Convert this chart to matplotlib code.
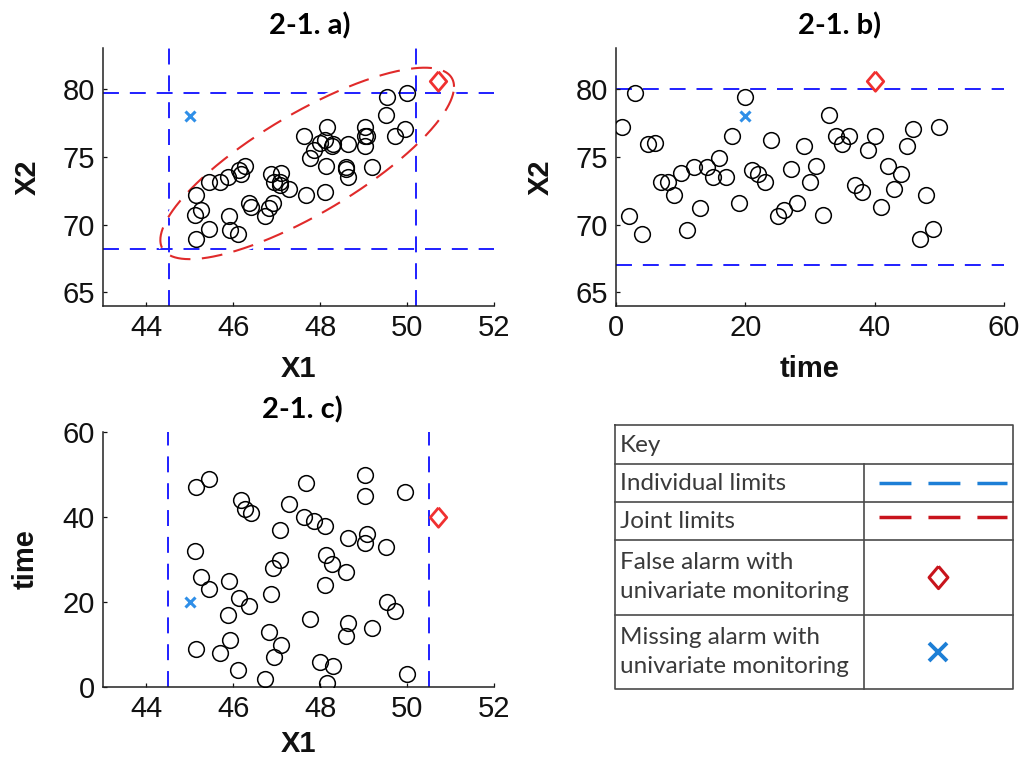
import numpy as np
import matplotlib
matplotlib.use("Agg")
import matplotlib.pyplot as plt
import matplotlib.patheffects as pe
from matplotlib.lines import Line2D

plt.rcParams["font.family"] = ["Liberation Sans", "DejaVu Sans"]

# ─── Observations (time, X1, X2) ──────────────────────────────────────────────
TIME = [1, 2, 3, 4, 5, 6, 7, 8, 9, 10,
        11, 12, 13, 14, 15, 16, 17, 18, 19, 20,
        21, 22, 23, 24, 25, 26, 27, 28, 29, 30,
        31, 32, 33, 34, 35, 36, 37, 38, 39, 40,
        41, 42, 43, 44, 45, 46, 47, 48, 49, 50]
X1 = [48.16, 46.74, 50.00, 46.11, 48.29, 48.00, 46.93, 45.70, 45.15, 47.09,
      45.93, 48.60, 46.83, 49.19, 48.65, 47.76, 45.88, 49.72, 46.35, 49.54,
      46.12, 46.86, 45.43, 48.10, 45.89, 45.25, 48.59, 46.91, 48.28, 47.08,
      48.13, 45.12, 49.51, 49.02, 48.65, 49.07, 47.08, 48.11, 47.85, 47.62,
      46.40, 46.28, 47.27, 46.17, 49.02, 49.94, 45.15, 47.68, 45.44, 49.02]
X2 = [77.2, 70.6, 79.7, 69.3, 75.9, 76.0, 73.1, 73.1, 72.2, 73.8,
      69.6, 74.2, 71.2, 74.2, 73.5, 74.9, 73.5, 76.5, 71.6, 79.4,
      74.0, 73.7, 73.1, 76.2, 70.6, 71.1, 74.1, 71.6, 75.8, 73.1,
      74.3, 70.7, 78.1, 76.5, 75.9, 76.5, 72.9, 72.4, 75.5, 76.5,
      71.3, 74.3, 72.6, 73.7, 75.8, 77.0, 68.9, 72.2, 69.7, 77.2]

# special points: (X1, X2, time)
FALSE_ALARM = (50.7, 80.6, 40)
MISSING_ALARM = (45.0, 78.0, 20)

# control limits
X1_LIM_A = [44.53, 50.2]
X2_LIM_A = [68.2, 79.7]
X2_LIM_B = [67.0, 80.0]
X1_LIM_C = [44.5, 50.5]

# joint (elliptical) limit
ELL_CENTER = (47.7, 74.5)
ELL_SD = (3.38, 7.05)
ELL_RHO = 0.80

KEY_LABELS = ["Individual limits", "Joint limits",
              "False alarm with\nunivariate monitoring",
              "Missing alarm with\nunivariate monitoring"]

# ─── Style tokens ─────────────────────────────────────────────────────────────
W, H = 1024, 762
BLUE = "#1f1fff"
RED = "#e02a2a"
DIAMOND_RED = "#f03030"
X_BLUE = "#2f8fe8"
KEY_BLUE = "#1d7fd6"
KEY_RED = "#c8141c"
TXT = "#3a3a3a"
DIAMOND = [(0, 1), (0.85, 0), (0, -1), (-0.85, 0), (0, 1)]

fig = plt.figure(figsize=(W / 100, H / 100), dpi=100)


def px_axes(left, top, right, bottom):
    return fig.add_axes([left / W, 1 - bottom / H, (right - left) / W, (bottom - top) / H])


def style(ax):
    for s in ("top", "right"):
        ax.spines[s].set_visible(False)
    for s in ("left", "bottom"):
        ax.spines[s].set_linewidth(1.1)
        ax.spines[s].set_color("#222222")
    ax.tick_params(direction="in", length=3, width=0.9, labelsize=21, pad=6, colors="#111111")


def limit_kw():
    return dict(color=BLUE, lw=1.4, dashes=(8.2, 5.6), zorder=1)


def circles(ax, x, y):
    ax.plot(x, y, "o", ls="none", ms=11.3, mfc="none", mec="black", mew=1.1, zorder=3)


def alarms(ax, fa, ma):
    ax.plot(*fa, marker=DIAMOND, ms=14, mfc="none", mec=DIAMOND_RED, mew=2.0, zorder=4)
    ax.plot(*ma, marker="x", ms=7, mec=X_BLUE, mew=2.2, zorder=4)


title_kw = dict(fontfamily="Lato", fontweight="bold", fontsize=21, pad=10)
label_kw = dict(fontsize=21, fontweight="bold", color="#111111")

# ─── (a) X2 vs X1 ─────────────────────────────────────────────────────────────
ax1 = px_axes(103, 48, 494, 306)
for v in X1_LIM_A:
    ax1.axvline(v, **limit_kw())
for v in X2_LIM_A:
    ax1.axhline(v, **limit_kw())
th = np.linspace(0, 2 * np.pi, 400)
ex = ELL_CENTER[0] + ELL_SD[0] * np.cos(th)
ey = ELL_CENTER[1] + ELL_SD[1] * (ELL_RHO * np.cos(th) + np.sqrt(1 - ELL_RHO ** 2) * np.sin(th))
ax1.plot(ex, ey, color=RED, lw=1.5, dashes=(10, 5.5), zorder=2,
         path_effects=[pe.Stroke(linewidth=4.5, foreground="white"), pe.Normal()])
circles(ax1, X1, X2)
alarms(ax1, FALSE_ALARM[:2], MISSING_ALARM[:2])
ax1.set_xlim(43, 52)
ax1.set_ylim(64, 83)
ax1.set_xticks([44, 46, 48, 50, 52])
ax1.set_yticks([65, 70, 75, 80])
ax1.set_xlabel("X1", labelpad=9, **label_kw)
ax1.set_ylabel("X2", labelpad=15, **label_kw)
ax1.set_title("2-1. a)", x=0.53, **title_kw)
style(ax1)

# ─── (b) X2 vs time ───────────────────────────────────────────────────────────
ax2 = px_axes(616, 48, 1004, 306)
for v in X2_LIM_B:
    ax2.axhline(v, **limit_kw())
circles(ax2, TIME, X2)
alarms(ax2, (FALSE_ALARM[2], FALSE_ALARM[1]), (MISSING_ALARM[2], MISSING_ALARM[1]))
ax2.set_xlim(0, 60)
ax2.set_ylim(64, 83)
ax2.set_xticks([0, 20, 40, 60])
ax2.set_yticks([65, 70, 75, 80])
ax2.set_xlabel("time", labelpad=9, **label_kw)
ax2.set_ylabel("X2", labelpad=15, **label_kw)
ax2.set_title("2-1. b)", x=0.575, **title_kw)
style(ax2)

# ─── (c) time vs X1 ───────────────────────────────────────────────────────────
ax3 = px_axes(103, 432, 494, 687)
for v in X1_LIM_C:
    ax3.axvline(v, **limit_kw())
circles(ax3, X1, TIME)
alarms(ax3, (FALSE_ALARM[0], FALSE_ALARM[2]), (MISSING_ALARM[0], MISSING_ALARM[2]))
ax3.set_xlim(43, 52)
ax3.set_ylim(0, 60)
ax3.set_xticks([44, 46, 48, 50, 52])
ax3.set_yticks([0, 20, 40, 60])
ax3.set_xlabel("X1", labelpad=5, **label_kw)
ax3.set_ylabel("time", labelpad=16, **label_kw)
ax3.set_title("2-1. c)", x=0.51, **title_kw)
style(ax3)

# ─── Key table (pixel coordinates) ────────────────────────────────────────────
kt = fig.add_axes([0, 0, 1, 1], zorder=-1)
kt.set_xlim(0, W)
kt.set_ylim(H, 0)
kt.axis("off")

L, R, T, B, C = 615, 1013, 425, 689, 864
rows = [464, 502, 540, 615]
grid_kw = dict(color="#4a4a4a", lw=1.2, solid_capstyle="projecting")
kt.plot([L, R, R, L, L], [T, T, B, B, T], **grid_kw)
for y in rows:
    kt.plot([L, R], [y, y], **grid_kw)
kt.plot([C, C], [rows[0], B], **grid_kw)

tkw = dict(fontfamily="Lato", fontsize=17.5, color=TXT, va="center", ha="left", linespacing=1.5)
kt.text(620, 445, "Key", **tkw)
for label, yc in zip(KEY_LABELS, [483, 521, 577, 652]):
    kt.text(620, yc, label, **tkw)

kt.add_line(Line2D([879, 1007], [483, 483], color=KEY_BLUE, lw=2.5, dashes=(9.2, 4.9), dash_capstyle="butt"))
kt.add_line(Line2D([879, 1007], [517, 517], color=KEY_RED, lw=2.5, dashes=(9.2, 4.9), dash_capstyle="butt"))
kt.plot([938], [577], marker=DIAMOND, ms=16, mfc="none", mec=KEY_RED, mew=2.2)
kt.plot([938], [652], marker="x", ms=13, mec=KEY_BLUE, mew=2.8)

fig.savefig("out.png", dpi=100)
